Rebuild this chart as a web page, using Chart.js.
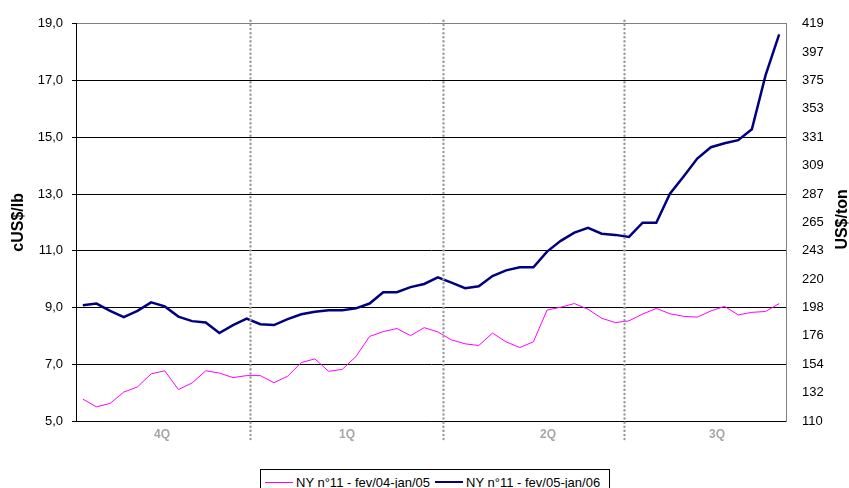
<!DOCTYPE html>
<html>
<head>
<meta charset="utf-8">
<script src="https://cdn.jsdelivr.net/npm/chart.js@4.4.1/dist/chart.umd.min.js"></script>
<style>
    html, body { margin: 0; padding: 0; background: #fff; }
    #wrap { position: relative; width: 849px; height: 488px; overflow: hidden; }
    #legend {
        position: absolute; left: 260px; top: 469px; width: 344px; height: 24px;
        border: 1px solid #000; background: #fff;
        font: 13px "Liberation Sans", Arial, sans-serif; color: #000;
        display: flex; align-items: center; padding-left: 4px; box-sizing: content-box;
        white-space: nowrap;
    }
    #legend .item { display: flex; align-items: center; margin-right: 5px; }
    #legend .swatch { display: inline-block; width: 28px; margin-right: 3px; }
</style>
</head>
<body>
<div id="wrap">
    <canvas id="chart" width="849" height="488"></canvas>
    <div id="legend"></div>
</div>
<script>
// Series (cUS$/lb), weekly values
const seriesLabels = ['NY n°11 - fev/04-jan/05', 'NY n°11 - fev/05-jan/06'];
const seriesColors = ['#FF00FF', '#000080'];
const seriesWidths = [1, 2.5];

const nyFev04Jan05 = [
    5.77, 5.50, 5.62, 6.02, 6.20, 6.66, 6.77, 6.11, 6.34, 6.77, 6.69, 6.53, 6.60,
    6.60, 6.35, 6.58, 7.06, 7.19, 6.75, 6.82, 7.27, 7.98, 8.15, 8.26, 8.01, 8.29,
    8.14, 7.86, 7.72, 7.66, 8.10, 7.79, 7.59, 7.79, 8.91, 9.01, 9.14, 8.94, 8.62,
    8.47, 8.53, 8.77, 8.97, 8.78, 8.69, 8.66, 8.88, 9.04, 8.74, 8.83, 8.86, 9.14
];
const nyFev05Jan06 = [
    9.08, 9.14, 8.88, 8.66, 8.88, 9.18, 9.04, 8.68, 8.52, 8.47, 8.10, 8.38, 8.61,
    8.41, 8.38, 8.59, 8.76, 8.85, 8.90, 8.90, 8.97, 9.14, 9.54, 9.54, 9.72, 9.83,
    10.06, 9.88, 9.68, 9.75, 10.11, 10.31, 10.42, 10.42, 10.97, 11.35, 11.64, 11.81, 11.60,
    11.56, 11.49, 11.99, 11.99, 13.01, 13.62, 14.25, 14.65, 14.79, 14.90, 15.28, 17.18, 18.63
];

// Quarter bands along the week axis (week index units)
const quarterLabels = ['4Q', '1Q', '2Q', '3Q'];
const quarterCenters = [5.8, 19.35, 34.07, 46.45];
const quarterEdges = [12.24, 26.4, 39.63];

// Axis ticks
const leftTicks = [5, 7, 9, 11, 13, 15, 17, 19];
const rightTickLabels = ['110', '132', '154', '176', '198', '220', '243', '265', '287', '309', '331', '353', '375', '397', '419'];
const leftTitle = 'cUS$/lb';
const rightTitle = 'US$/ton';

const FONT = '"Liberation Sans", Arial, sans-serif';

function toPoints(arr) {
    return arr.map((v, i) => ({ x: i, y: v }));
}

// dotted quarter separators + rotated axis titles
const decorPlugin = {
    id: 'decor',
    afterDraw(chart) {
        const { ctx, chartArea, scales } = chart;
        ctx.save();
        ctx.strokeStyle = '#9A9A9A';
        ctx.lineWidth = 2.4;
        ctx.lineCap = 'round';
        ctx.setLineDash([0.1, 4]);
        quarterEdges.forEach(e => {
            const x = Math.round(scales.x.getPixelForValue(e)) + 0.5;
            ctx.beginPath();
            ctx.moveTo(x, chartArea.top - 3);
            ctx.lineTo(x, chartArea.bottom + 20);
            ctx.stroke();
        });
        ctx.setLineDash([]);
        ctx.lineCap = 'butt';

        ctx.fillStyle = '#000';
        ctx.font = 'bold 16px ' + FONT;
        ctx.textAlign = 'center';
        ctx.textBaseline = 'middle';
        const midY = (chartArea.top + chartArea.bottom) / 2;

        ctx.save();
        ctx.translate(19, midY);
        ctx.rotate(-Math.PI / 2);
        ctx.fillText(leftTitle, 0, 0);
        ctx.restore();

        ctx.save();
        ctx.translate(843, midY - 3);
        ctx.rotate(-Math.PI / 2);
        ctx.fillText(rightTitle, 0, 0);
        ctx.restore();

        ctx.restore();
    }
};

const chart = new Chart(document.getElementById('chart'), {
    type: 'line',
    data: {
        datasets: [nyFev04Jan05, nyFev05Jan06].map((arr, i) => ({
            label: seriesLabels[i],
            data: toPoints(arr),
            borderColor: seriesColors[i],
            backgroundColor: seriesColors[i],
            borderWidth: seriesWidths[i],
            pointRadius: 0,
            tension: 0,
            fill: false,
            yAxisID: 'y'
        }))
    },
    options: {
        responsive: false,
        animation: false,
        devicePixelRatio: 1,
        layout: { padding: { top: 20, left: 0, right: 0, bottom: 0 } },
        plugins: {
            legend: { display: false },
            tooltip: { enabled: false }
        },
        scales: {
            x: {
                type: 'linear',
                min: -0.5,
                max: nyFev05Jan06.length - 0.5,
                afterBuildTicks: s => { s.ticks = quarterCenters.map(v => ({ value: v })); },
                afterFit: s => { s.height = 67; },
                grid: { display: false, drawTicks: false },
                border: { color: '#000', width: 1 },
                ticks: {
                    autoSkip: false,
                    maxRotation: 0,
                    padding: 6,
                    color: '#A6A6A6',
                    font: { family: FONT, size: 12, weight: 'bold' },
                    callback: (v, i) => quarterLabels[i]
                }
            },
            y: {
                position: 'left',
                min: 5,
                max: 19,
                afterBuildTicks: s => { s.ticks = leftTicks.map(v => ({ value: v })); },
                afterFit: s => { s.width = 76; },
                grid: {
                    color: c => (c.tick && c.tick.value === 19) ? '#808080' : '#000',
                    tickColor: '#000',
                    tickLength: 4,
                    lineWidth: 1
                },
                border: { color: '#000', width: 1 },
                ticks: {
                    autoSkip: false,
                    padding: 9,
                    color: '#000',
                    font: { family: FONT, size: 13 },
                    callback: v => v.toFixed(1).replace('.', ',')
                }
            },
            y2: {
                position: 'right',
                min: 5,
                max: 19,
                afterBuildTicks: s => { s.ticks = rightTickLabels.map((t, i) => ({ value: 5 + i })); },
                afterFit: s => { s.width = 63; },
                grid: { drawOnChartArea: false, drawTicks: false },
                border: { color: '#808080', width: 1 },
                ticks: {
                    autoSkip: false,
                    padding: 16,
                    color: '#000',
                    font: { family: FONT, size: 13 },
                    callback: (v, i) => rightTickLabels[i]
                }
            }
        }
    },
    plugins: [decorPlugin]
});

// legend box under the chart
const legend = document.getElementById('legend');
seriesLabels.forEach((lbl, i) => {
    const item = document.createElement('span');
    item.className = 'item';
    const sw = document.createElement('span');
    sw.className = 'swatch';
    sw.style.borderTop = seriesWidths[i] + 'px solid ' + seriesColors[i];
    item.appendChild(sw);
    item.appendChild(document.createTextNode(lbl));
    legend.appendChild(item);
});
</script>
</body>
</html>
